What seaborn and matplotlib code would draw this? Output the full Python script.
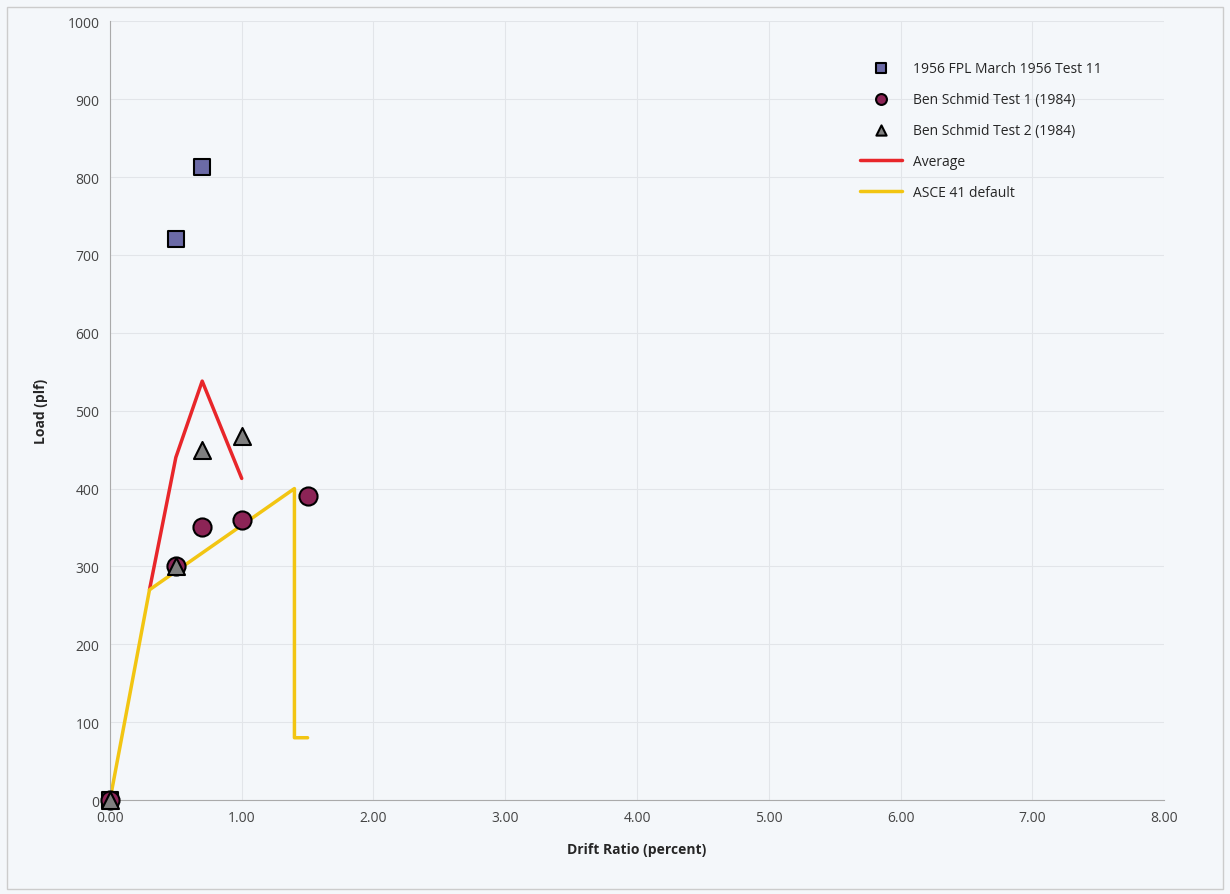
import matplotlib.pyplot as plt
import seaborn as sns
from matplotlib.ticker import MultipleLocator, FormatStrFormatter
from matplotlib.patches import Rectangle

sns.set_style('white')
plt.rcParams['font.family'] = ['Open Sans', 'DejaVu Sans']

# Test data (drift ratio in percent, load in plf)
fpl_x = [0.0, 0.5, 0.7]
fpl_y = [0, 720, 813]
schmid1_x = [0.0, 0.5, 0.7, 1.0, 1.5]
schmid1_y = [0, 300, 350, 360, 390]
schmid2_x = [0.0, 0.5, 0.7, 1.0]
schmid2_y = [0, 300, 450, 468]
avg_x = [0.3, 0.5, 0.7, 1.0]
avg_y = [270, 440, 538, 413]
asce_x = [0.0, 0.3, 1.4, 1.4, 1.5]
asce_y = [0, 270, 400, 80, 80]

bg = '#f4f7fa'
fig = plt.figure(figsize=(12.3, 8.95), dpi=100, facecolor=bg)
ax = fig.add_axes([0.0894, 0.105, 0.857, 0.870])
ax.set_facecolor(bg)

sns.lineplot(x=avg_x, y=avg_y, ax=ax, color='#e8262a', linewidth=2.5,
             sort=False, estimator=None, label='Average', zorder=2)
sns.lineplot(x=asce_x, y=asce_y, ax=ax, color='#f2c512', linewidth=2.5,
             sort=False, estimator=None, label='ASCE 41 default', zorder=2)
sns.scatterplot(x=fpl_x, y=fpl_y, ax=ax, marker='s', s=130, color='#6b6aa6',
                edgecolor='black', linewidth=1.5, label='1956 FPL March 1956 Test 11',
                zorder=3, clip_on=False)
sns.scatterplot(x=schmid1_x, y=schmid1_y, ax=ax, marker='o', s=170, color='#8c2456',
                edgecolor='black', linewidth=1.5, label='Ben Schmid Test 1 (1984)',
                zorder=3, clip_on=False)
sns.scatterplot(x=schmid2_x, y=schmid2_y, ax=ax, marker='^', s=150, color='#7f7f7f',
                edgecolor='black', linewidth=1.5, label='Ben Schmid Test 2 (1984)',
                zorder=4, clip_on=False)

ax.set_xlim(0, 8)
ax.set_ylim(0, 1000)
ax.xaxis.set_major_locator(MultipleLocator(1))
ax.xaxis.set_minor_locator(MultipleLocator(0.2))
ax.yaxis.set_major_locator(MultipleLocator(100))
ax.yaxis.set_minor_locator(MultipleLocator(50))
ax.xaxis.set_major_formatter(FormatStrFormatter('%.2f'))
ax.grid(True, which='major', color='#e2e5e9', linewidth=0.8)
ax.tick_params(which='both', direction='inout', colors='#999999', labelcolor='#444444',
               labelsize=10)
ax.tick_params(which='major', length=8)
ax.tick_params(which='minor', length=4)
for side in ['top', 'right']:
    ax.spines[side].set_visible(False)
for side in ['left', 'bottom']:
    ax.spines[side].set_color('#aaaaaa')

ax.set_xlabel('Drift Ratio (percent)', fontsize=10, fontweight='bold', labelpad=12)
ax.set_ylabel('Load (plf)', fontsize=10, fontweight='bold', labelpad=14)

handles, labels = ax.get_legend_handles_labels()
order = [2, 3, 4, 0, 1]
ax.legend([handles[i] for i in order], [labels[i] for i in order],
          loc='upper left', bbox_to_anchor=(0.7, 0.965), frameon=False,
          fontsize=10, labelspacing=1.15, handlelength=3.0, markerscale=0.6)

fig.patches.append(Rectangle((0.006, 0.006), 0.988, 0.985, transform=fig.transFigure,
                             fill=False, edgecolor='#cccccc', linewidth=1))

plt.savefig('out.png', dpi=100, facecolor=bg)
